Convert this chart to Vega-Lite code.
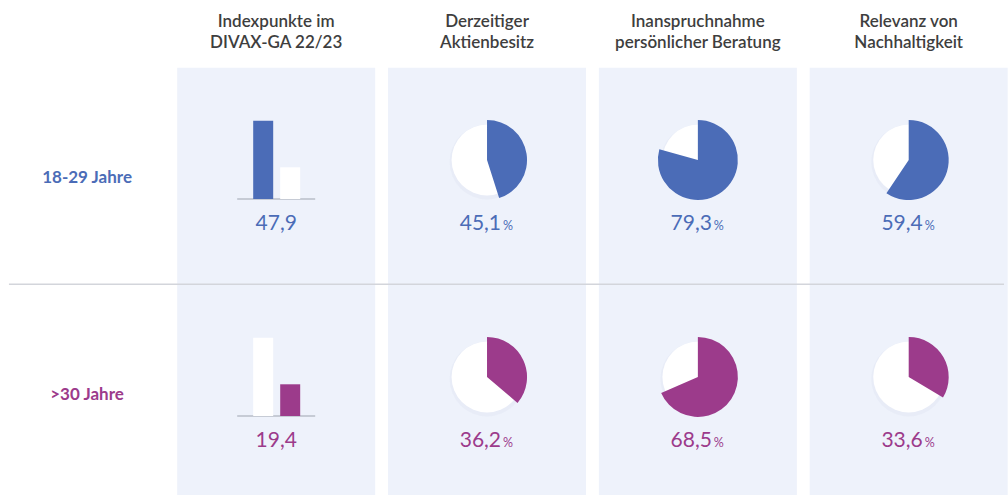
{
  "$schema": "https://vega.github.io/schema/vega-lite/v6.json",
  "width": 1008,
  "height": 495,
  "autosize": {"type": "fit", "contains": "padding"},
  "padding": 0,
  "background": "#ffffff",
  "config": {
    "font": "Lato",
    "view": {"stroke": null},
    "locale": {"number": {"decimal": ",", "thousands": ".", "grouping": [3], "currency": ["", " €"]}}
  },
  "datasets": {
    "metrics": [
      {"col": 0, "title": "Indexpunkte im\nDIVAX-GA 22/23"},
      {"col": 1, "title": "Derzeitiger\nAktienbesitz"},
      {"col": 2, "title": "Inanspruchnahme\npersönlicher Beratung"},
      {"col": 3, "title": "Relevanz von\nNachhaltigkeit"}
    ],
    "groups": [
      {"row": 0, "group": "18-29 Jahre"},
      {"row": 1, "group": ">30 Jahre"}
    ],
    "values": [
      {"row": 0, "group": "18-29 Jahre", "col": 0, "value": 47.9},
      {"row": 0, "group": "18-29 Jahre", "col": 1, "value": 45.1},
      {"row": 0, "group": "18-29 Jahre", "col": 2, "value": 79.3},
      {"row": 0, "group": "18-29 Jahre", "col": 3, "value": 59.4},
      {"row": 1, "group": ">30 Jahre", "col": 0, "value": 19.4},
      {"row": 1, "group": ">30 Jahre", "col": 1, "value": 36.2},
      {"row": 1, "group": ">30 Jahre", "col": 2, "value": 68.5},
      {"row": 1, "group": ">30 Jahre", "col": 3, "value": 33.6}
    ]
  },
  "resolve": {"scale": {"x": "independent", "y": "independent"}},
  "layer": [
    {
      "layer": [
        {
          "data": {"name": "metrics"},
          "mark": {"type": "rect", "fill": "#eef2fb", "xOffset": -99, "x2Offset": 99},
          "encoding": {
            "x": {"field": "col", "type": "quantitative", "scale": {"domain": [-1.31, 3.452], "nice": false, "zero": false}, "axis": null},
            "x2": {"field": "col"},
            "y": {"datum": -0.4253, "type": "quantitative", "scale": {"domain": [-0.7373, 1.5438], "nice": false, "zero": false, "reverse": true}, "axis": null},
            "y2": {"datum": 1.5438}
          }
        },
        {
          "data": {"name": "metrics"},
          "mark": {"type": "text", "lineBreak": "\n", "fontSize": 17, "fontWeight": 600, "color": "#3e3e3e", "align": "center", "baseline": "alphabetic", "lineHeight": 21},
          "encoding": {
            "x": {"field": "col", "type": "quantitative", "scale": {"domain": [-1.31, 3.452], "nice": false, "zero": false}, "axis": null},
            "y": {"datum": -0.6106, "type": "quantitative", "scale": {"domain": [-0.7373, 1.5438], "nice": false, "zero": false, "reverse": true}, "axis": null},
            "text": {"field": "title"}
          }
        },
        {
          "data": {"values": [{"divider": "Trennlinie"}]},
          "mark": {"type": "rule", "color": "#d3d5db", "strokeWidth": 1.5},
          "encoding": {
            "x": {"datum": -1.2676, "type": "quantitative", "scale": {"domain": [-1.31, 3.452], "nice": false, "zero": false}, "axis": null},
            "x2": {"datum": 3.452},
            "y": {"datum": 0.5728, "type": "quantitative", "scale": {"domain": [-0.7373, 1.5438], "nice": false, "zero": false, "reverse": true}, "axis": null}
          }
        },
        {
          "data": {"name": "groups"},
          "mark": {"type": "text", "fontSize": 17, "fontWeight": "bold", "align": "center", "baseline": "alphabetic", "yOffset": 23.3},
          "encoding": {
            "x": {"datum": -0.897, "type": "quantitative", "scale": {"domain": [-1.31, 3.452], "nice": false, "zero": false}, "axis": null},
            "y": {"field": "row", "type": "quantitative", "scale": {"domain": [-0.7373, 1.5438], "nice": false, "zero": false, "reverse": true}, "axis": null},
            "text": {"field": "group"},
            "color": {"field": "group", "type": "nominal", "scale": {"domain": ["18-29 Jahre", ">30 Jahre"], "range": ["#4b6cb7", "#9c3b8b"]}, "legend": null}
          }
        },
        {
          "data": {"name": "groups"},
          "mark": {"type": "rule", "color": "#b9bec9", "strokeWidth": 1.5, "xOffset": -39, "x2Offset": 39, "yOffset": 39},
          "encoding": {
            "x": {"datum": 0, "type": "quantitative", "scale": {"domain": [-1.31, 3.452], "nice": false, "zero": false}, "axis": null},
            "x2": {"datum": 0},
            "y": {"field": "row", "type": "quantitative", "scale": {"domain": [-0.7373, 1.5438], "nice": false, "zero": false, "reverse": true}, "axis": null}
          }
        },
        {
          "data": {"name": "values"},
          "transform": [{"filter": "datum.col > 0"}],
          "mark": {"type": "point", "shape": "circle", "filled": true, "size": 5600, "color": "#dde3f1", "opacity": 0.35, "yOffset": 2},
          "encoding": {
            "x": {"field": "col", "type": "quantitative", "scale": {"domain": [-1.31, 3.452], "nice": false, "zero": false}, "axis": null},
            "y": {"field": "row", "type": "quantitative", "scale": {"domain": [-0.7373, 1.5438], "nice": false, "zero": false, "reverse": true}, "axis": null}
          }
        },
        {
          "data": {"name": "values"},
          "transform": [{"filter": "datum.col > 0"}],
          "mark": {"type": "point", "shape": "circle", "filled": true, "size": 5027, "color": "#ffffff", "opacity": 1},
          "encoding": {
            "x": {"field": "col", "type": "quantitative", "scale": {"domain": [-1.31, 3.452], "nice": false, "zero": false}, "axis": null},
            "y": {"field": "row", "type": "quantitative", "scale": {"domain": [-0.7373, 1.5438], "nice": false, "zero": false, "reverse": true}, "axis": null}
          }
        },
        {
          "data": {"name": "values"},
          "transform": [{"filter": "datum.col > 0"}],
          "mark": {"type": "arc", "outerRadius": 40},
          "encoding": {
            "x": {"field": "col", "type": "quantitative", "scale": {"domain": [-1.31, 3.452], "nice": false, "zero": false}, "axis": null},
            "y": {"field": "row", "type": "quantitative", "scale": {"domain": [-0.7373, 1.5438], "nice": false, "zero": false, "reverse": true}, "axis": null},
            "theta": {"field": "value", "type": "quantitative", "stack": null, "scale": {"domain": [0, 100], "zero": true, "nice": false}},
            "color": {"field": "group", "type": "nominal", "scale": {"domain": ["18-29 Jahre", ">30 Jahre"], "range": ["#4b6cb7", "#9c3b8b"]}, "legend": null}
          }
        },
        {
          "data": {"name": "values"},
          "transform": [{"filter": "datum.col > 0"}],
          "mark": {"type": "text", "fontSize": 21, "align": "right", "baseline": "alphabetic", "dx": 14, "yOffset": 70},
          "encoding": {
            "x": {"field": "col", "type": "quantitative", "scale": {"domain": [-1.31, 3.452], "nice": false, "zero": false}, "axis": null},
            "y": {"field": "row", "type": "quantitative", "scale": {"domain": [-0.7373, 1.5438], "nice": false, "zero": false, "reverse": true}, "axis": null},
            "text": {"field": "value", "type": "quantitative", "format": ".1f"},
            "color": {"field": "group", "type": "nominal", "scale": {"domain": ["18-29 Jahre", ">30 Jahre"], "range": ["#4b6cb7", "#9c3b8b"]}, "legend": null}
          }
        },
        {
          "data": {"name": "values"},
          "transform": [{"filter": "datum.col > 0"}],
          "mark": {"type": "text", "fontSize": 12.5, "align": "left", "baseline": "alphabetic", "dx": 16, "yOffset": 70},
          "encoding": {
            "x": {"field": "col", "type": "quantitative", "scale": {"domain": [-1.31, 3.452], "nice": false, "zero": false}, "axis": null},
            "y": {"field": "row", "type": "quantitative", "scale": {"domain": [-0.7373, 1.5438], "nice": false, "zero": false, "reverse": true}, "axis": null},
            "text": {"value": "%"},
            "color": {"field": "group", "type": "nominal", "scale": {"domain": ["18-29 Jahre", ">30 Jahre"], "range": ["#4b6cb7", "#9c3b8b"]}, "legend": null}
          }
        },
        {
          "data": {"name": "values"},
          "transform": [{"filter": "datum.col == 0"}],
          "mark": {"type": "text", "fontSize": 21, "align": "center", "baseline": "alphabetic", "yOffset": 70},
          "encoding": {
            "x": {"field": "col", "type": "quantitative", "scale": {"domain": [-1.31, 3.452], "nice": false, "zero": false}, "axis": null},
            "y": {"field": "row", "type": "quantitative", "scale": {"domain": [-0.7373, 1.5438], "nice": false, "zero": false, "reverse": true}, "axis": null},
            "text": {"field": "value", "type": "quantitative", "format": ".1f"},
            "color": {"field": "group", "type": "nominal", "scale": {"domain": ["18-29 Jahre", ">30 Jahre"], "range": ["#4b6cb7", "#9c3b8b"]}, "legend": null}
          }
        }
      ]
    },
    {
      "data": {"name": "values"},
      "transform": [{"filter": "datum.col == 0 && datum.row == 0"}],
      "mark": {"type": "rule", "strokeWidth": 20, "strokeCap": "butt", "xOffset": -13, "color": "#4b6cb7"},
      "encoding": {
        "x": {"field": "col", "type": "quantitative", "scale": {"domain": [-1.31, 3.452], "nice": false, "zero": false}, "axis": null},
        "y": {"field": "value", "type": "quantitative", "scale": {"domain": [-181, 121.7], "nice": false, "zero": false}, "axis": null},
        "y2": {"datum": 0}
      }
    },
    {
      "data": {"name": "values"},
      "transform": [{"filter": "datum.col == 0 && datum.row == 1"}],
      "mark": {"type": "rule", "strokeWidth": 20, "strokeCap": "butt", "xOffset": 14, "color": "#ffffff"},
      "encoding": {
        "x": {"field": "col", "type": "quantitative", "scale": {"domain": [-1.31, 3.452], "nice": false, "zero": false}, "axis": null},
        "y": {"field": "value", "type": "quantitative", "scale": {"domain": [-181, 121.7], "nice": false, "zero": false}, "axis": null},
        "y2": {"datum": 0}
      }
    },
    {
      "data": {"name": "values"},
      "transform": [{"filter": "datum.col == 0 && datum.row == 0"}],
      "mark": {"type": "rule", "strokeWidth": 20, "strokeCap": "butt", "xOffset": -13, "color": "#ffffff"},
      "encoding": {
        "x": {"field": "col", "type": "quantitative", "scale": {"domain": [-1.31, 3.452], "nice": false, "zero": false}, "axis": null},
        "y": {"field": "value", "type": "quantitative", "scale": {"domain": [-48.3, 254.4], "nice": false, "zero": false}, "axis": null},
        "y2": {"datum": 0}
      }
    },
    {
      "data": {"name": "values"},
      "transform": [{"filter": "datum.col == 0 && datum.row == 1"}],
      "mark": {"type": "rule", "strokeWidth": 20, "strokeCap": "butt", "xOffset": 14, "color": "#9c3b8b"},
      "encoding": {
        "x": {"field": "col", "type": "quantitative", "scale": {"domain": [-1.31, 3.452], "nice": false, "zero": false}, "axis": null},
        "y": {"field": "value", "type": "quantitative", "scale": {"domain": [-48.3, 254.4], "nice": false, "zero": false}, "axis": null},
        "y2": {"datum": 0}
      }
    }
  ]
}
